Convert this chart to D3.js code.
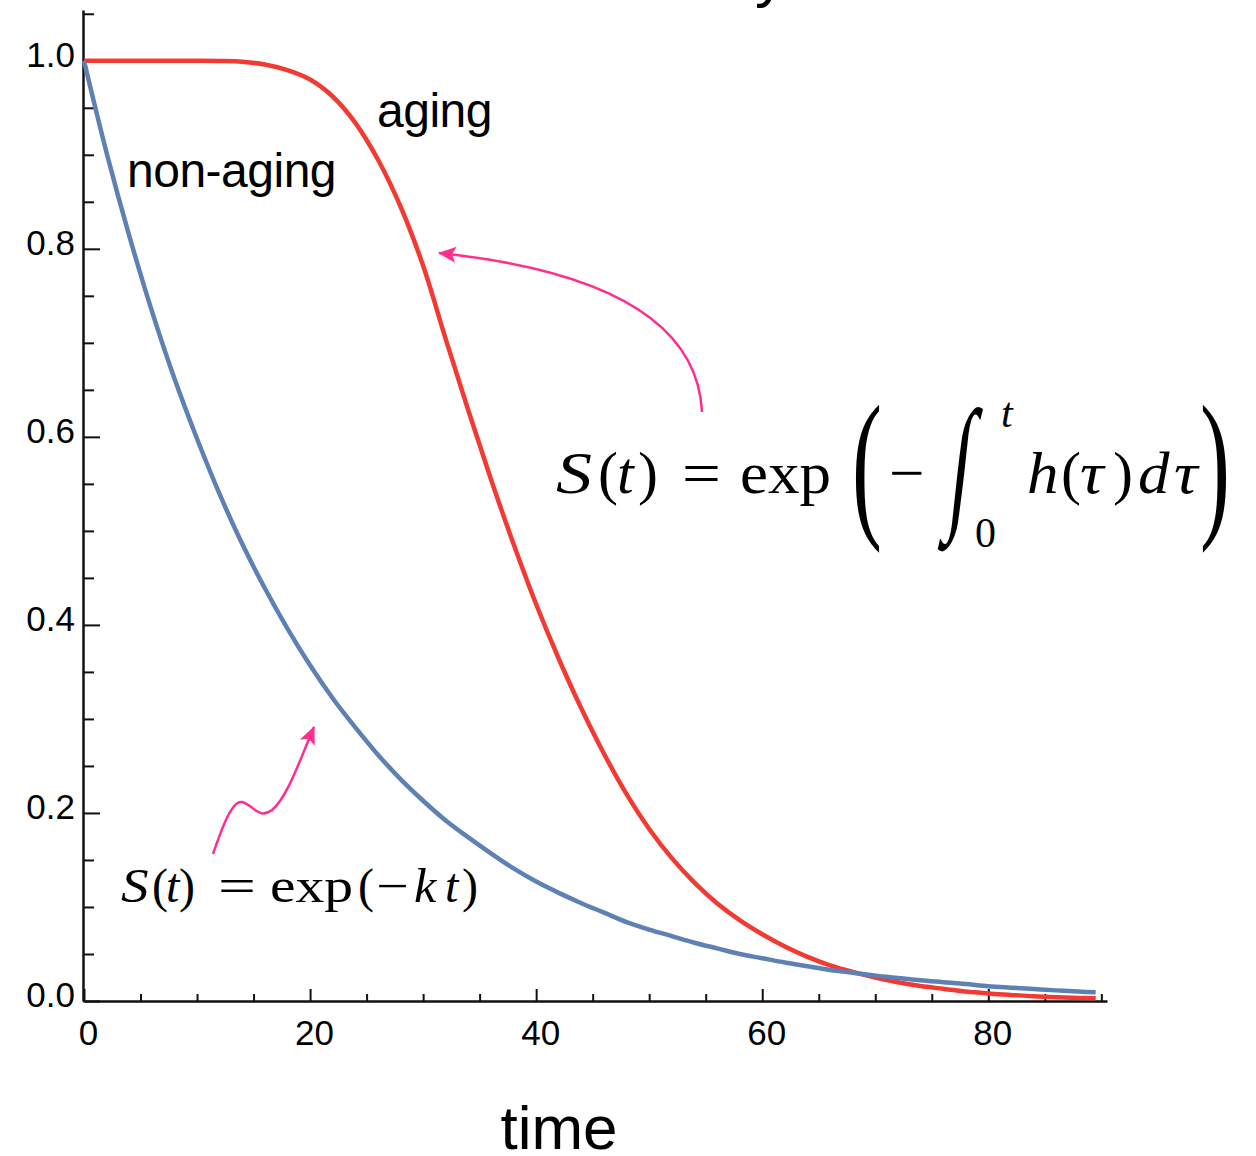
<!DOCTYPE html>
<html><head><meta charset="utf-8">
<script src="https://cdn.jsdelivr.net/npm/d3@7"></script>
<style>
html,body{margin:0;padding:0;background:#fff;}
svg{display:block;}
</style></head>
<body>
<svg id="chart" width="1256" height="1156"></svg>
<script>
// ---- data ----
const timePoints = [0,2,4,6,8,10,12,14,16,18,20,22,24,26,28,30,32,34,36,38,40,42,44,46,48,50,52,54,56,58,60,62,64,66,68,70,72,74,76,78,80,82,84,86,88,89.5];
const nonAging = [1.000,0.902,0.814,0.734,0.662,0.598,0.539,0.486,0.439,0.396,0.357,0.322,0.291,0.262,0.236,0.213,0.192,0.174,0.157,0.141,0.127,0.115,0.104,0.094,0.084,0.076,0.069,0.062,0.056,0.050,0.0455,0.041,0.037,0.033,0.030,0.027,0.0245,0.022,0.020,0.018,0.0158,0.0142,0.0127,0.0113,0.0100,0.0092];
const aging = [1.000,1.000,1.000,1.000,1.000,1.000,0.9998,0.999,0.996,0.990,0.980,0.962,0.934,0.895,0.845,0.782,0.704,0.628,0.555,0.486,0.422,0.364,0.311,0.263,0.220,0.183,0.152,0.126,0.104,0.086,0.071,0.058,0.047,0.038,0.031,0.025,0.020,0.016,0.013,0.010,0.008,0.0065,0.005,0.004,0.0033,0.003];
const xMajorTicks = [0,20,40,60,80];
const xMinorTicks = [5,10,15,25,30,35,45,50,55,65,70,75,85,90];
const yMajorTicks = [0,0.2,0.4,0.6,0.8,1.0];
const yMinorTicks = [0.05,0.1,0.15,0.25,0.3,0.35,0.45,0.5,0.55,0.65,0.7,0.75,0.85,0.9,0.95,1.05];
const seriesLabels = ["non-aging","aging"];
const xTitle = "time";
const plotTitle = "Survivability";

const svg = d3.select("#chart");
const x = d3.scaleLinear().domain([0, 90.5]).range([84, 1107]);
const y = d3.scaleLinear().domain([0, 1.054]).range([1001, 10]);

const sans = "'Liberation Sans', Arial, Helvetica, sans-serif";
const serif = "'Liberation Serif', 'Times New Roman', serif";
const pink = "#FF2E8E";

// clipped title (only the descender shows)
svg.append("text").attr("x", 786).attr("y", -5).attr("text-anchor","end")
  .attr("font-family", sans).attr("font-size", 62).text(plotTitle);

// axes
const gx = svg.append("g").attr("transform", `translate(0,${y(0)})`);
gx.call(d3.axisBottom(x).tickValues(xMajorTicks).tickSize(-12).tickSizeOuter(0).tickPadding(19).tickFormat(d3.format("d")));
const gxm = svg.append("g").attr("transform", `translate(0,${y(0)})`);
gxm.call(d3.axisBottom(x).tickValues(xMinorTicks).tickSize(-7).tickSizeOuter(0).tickFormat(""));
gxm.select(".domain").remove();

const gy = svg.append("g").attr("transform", `translate(${x(0)-1},0)`);
gy.call(d3.axisLeft(y).tickValues(yMajorTicks).tickSize(-17).tickSizeOuter(0).tickPadding(8).tickFormat(d3.format(".1f")));
const gym = svg.append("g").attr("transform", `translate(${x(0)-1},0)`);
gym.call(d3.axisLeft(y).tickValues(yMinorTicks).tickSize(-11).tickSizeOuter(0).tickFormat(""));
gym.select(".domain").remove();

svg.selectAll(".domain").attr("stroke","#111").attr("stroke-width",2.5);
svg.selectAll(".tick line").attr("stroke","#111").attr("stroke-width",2);
gx.selectAll(".tick text").attr("font-family", sans).attr("font-size", 35).attr("fill","#000").attr("dx", 4);
gy.selectAll(".tick text").attr("font-family", sans).attr("font-size", 35).attr("fill","#000").attr("dy","0.15em");

// curves
const line = d3.line().x((d,i)=>x(timePoints[i])).y(d=>y(d)).curve(d3.curveCatmullRom.alpha(0.5));
svg.append("path").datum(aging).attr("d", line).attr("fill","none").attr("stroke","#F23A33").attr("stroke-width",4.5);
svg.append("path").datum(nonAging).attr("d", line).attr("fill","none").attr("stroke","#5E81B5").attr("stroke-width",4.5);

// labels
svg.append("text").attr("x",127).attr("y",187).attr("font-family",sans).attr("font-size",48).attr("letter-spacing",-0.5).text(seriesLabels[0]);
svg.append("text").attr("x",377).attr("y",127).attr("font-family",sans).attr("font-size",48).attr("letter-spacing",-0.5).text(seriesLabels[1]);
svg.append("text").attr("x",559).attr("y",1149).attr("text-anchor","middle").attr("font-family",sans).attr("font-size",62).text(xTitle);

// arrows
const defs = svg.append("defs");
defs.append("marker").attr("id","ah").attr("markerUnits","userSpaceOnUse")
  .attr("viewBox","0 0 18 16").attr("refX",17).attr("refY",8).attr("markerWidth",18).attr("markerHeight",16).attr("orient","auto")
  .append("path").attr("d","M0,0 L18,8 L0,16 L4,8 Z").attr("fill",pink);
svg.append("path").attr("d","M702,412 C698,330 620,272 439,253").attr("fill","none").attr("stroke",pink).attr("stroke-width",2.5).attr("marker-end","url(#ah)");
svg.append("path").attr("d","M213,854 C222,828 232,800 242,802 C254,805 258,820 272,810 C287,798 300,760 314,727").attr("fill","none").attr("stroke",pink).attr("stroke-width",2.5).attr("marker-end","url(#ah)");

// formulas
function glyph(t, px, py, size, italic, sx=1, sy=1, extra){
  return svg.append("text").attr("transform",`translate(${px},${py}) scale(${sx},${sy})${extra||""}`)
    .attr("font-family", serif).attr("font-size", size).attr("font-style", italic?"italic":"normal").text(t);
}
// large: S(t) = exp( - ∫_0^t h(τ)dτ )
glyph("S",556,493,60,true,1.2,1);
glyph("(",598,493,60,false);
glyph("t",617,493,60,true);
glyph(")",638,493,60,false);
glyph("=",682,493,60,false,1.15,1);
glyph("exp",740,493,60,false,1.05,1);
glyph("(",852,518,60,false,1.5,2.72);
glyph("\u2212",889,493,60,false,1.05,1);
glyph("\u222B",946,512,60,false,1.3,2.45," skewX(-12)");
glyph("t",1001,427,42,true);
glyph("0",975,547,42,false);
glyph("h",1027,493,60,true,1.05,1);
glyph("(",1061,493,60,false);
glyph("\u03C4",1080,493,60,true,1.1,1);
glyph(")",1113,493,60,false);
glyph("d",1138,493,60,true,1.05,1);
glyph("\u03C4",1174,493,60,true,1.1,1);
glyph(")",1200,518,60,false,1.5,2.72);
// small: S(t) = exp(-k t)
glyph("S",121,902,48,true,1.15,1);
glyph("(",152,902,48,false);
glyph("t",166,902,48,true);
glyph(")",179,902,48,false);
glyph("=",218,902,48,false,1.4,1);
glyph("exp",270,902,48,false,1.2,1);
glyph("(",358,902,48,false);
glyph("\u2212",376,902,48,false,1.2,1);
glyph("k",414,902,48,true,1.05,1);
glyph("t",445,902,48,true);
glyph(")",462,902,48,false);
</script>
</body></html>
